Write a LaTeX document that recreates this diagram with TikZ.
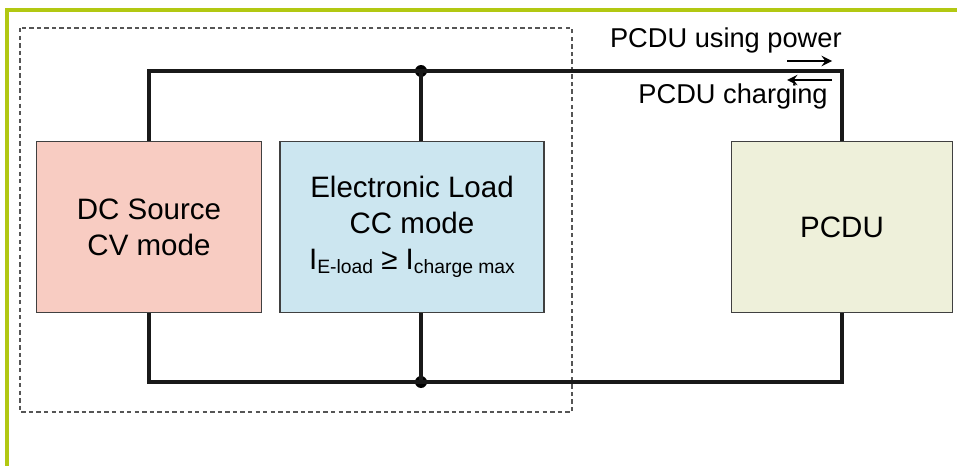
\documentclass[tikz,border=0pt]{standalone}
\usepackage{fontspec}
\setmainfont{Liberation Sans}
\usetikzlibrary{positioning}
\definecolor{cgreen}{RGB}{178,200,18}
\definecolor{cpink}{RGB}{248,204,194}
\definecolor{cblue}{RGB}{204,230,240}
\definecolor{cbeige}{RGB}{238,240,218}
\definecolor{cdash}{RGB}{85,85,85}
\newcommand{\subtxt}[1]{\raisebox{-0.3ex}{\fontsize{11}{12}\selectfont #1}}

\begin{document}
\begin{tikzpicture}[
    x=0.02cm, y=-0.02cm,
    box/.style={draw=black!75, line width=1pt, minimum height=3.42cm, align=center,
                inner sep=0pt, font=\fontsize{16.8}{20.4}\selectfont},
    wire/.style={line width=1.8pt, black!90},
    dot/.style={circle, fill=black, inner sep=0pt, minimum size=2.4mm},
    lbl/.style={font=\fontsize{15.5}{18}\selectfont, inner sep=0pt},
    >=stealth
  ]
  \useasboundingbox (0,0) rectangle (957,466);

  % frame and dashed group
  \draw[cgreen, line width=2.2pt] (957,10) -- (7,10) -- (7,466);
  \draw[cdash, dashed, line width=0.8pt, dash pattern=on 2.5pt off 1.8pt] (20,28) rectangle (572,412);

  % blocks
  \node[box, fill=cpink, minimum width=4.5cm] (dc) at (149,227) {DC Source\\CV mode};
  \node[box, fill=cblue, minimum width=5.28cm] (eload) at (412,227)
    {Electronic Load\\CC mode\\I\subtxt{E-load} ≥ I\subtxt{charge max}};
  \node[box, fill=cbeige, minimum width=4.42cm] (pcdu) at (842,227) {PCDU};

  % junctions
  \node[dot] (jtop) at (421,71) {};
  \node[dot] (jbot) at (421,382) {};

  % wiring
  \draw[wire] (dc.north) |- (jtop.center) -| (pcdu.north);
  \draw[wire] (dc.south) |- (jbot.center) -| (pcdu.south);
  \draw[wire] (jtop.center) -- (jtop |- eload.north);
  \draw[wire] (jbot.center) -- (jbot |- eload.south);

  % current direction
  \node[lbl, anchor=base east] (using) at (842,48) {PCDU using power};
  \node[lbl, anchor=base east] (charging) at (828,104) {PCDU charging};
  \coordinate (usingA) at (787,61);
  \coordinate (usingB) at (832,61);
  \coordinate (chargeA) at (832,80);
  \coordinate (chargeB) at (787,80);
  \draw[->, line width=1.6pt] (usingA) -- (usingB);
  \draw[->, line width=1.6pt] (chargeA) -- (chargeB);
\end{tikzpicture}
\end{document}
